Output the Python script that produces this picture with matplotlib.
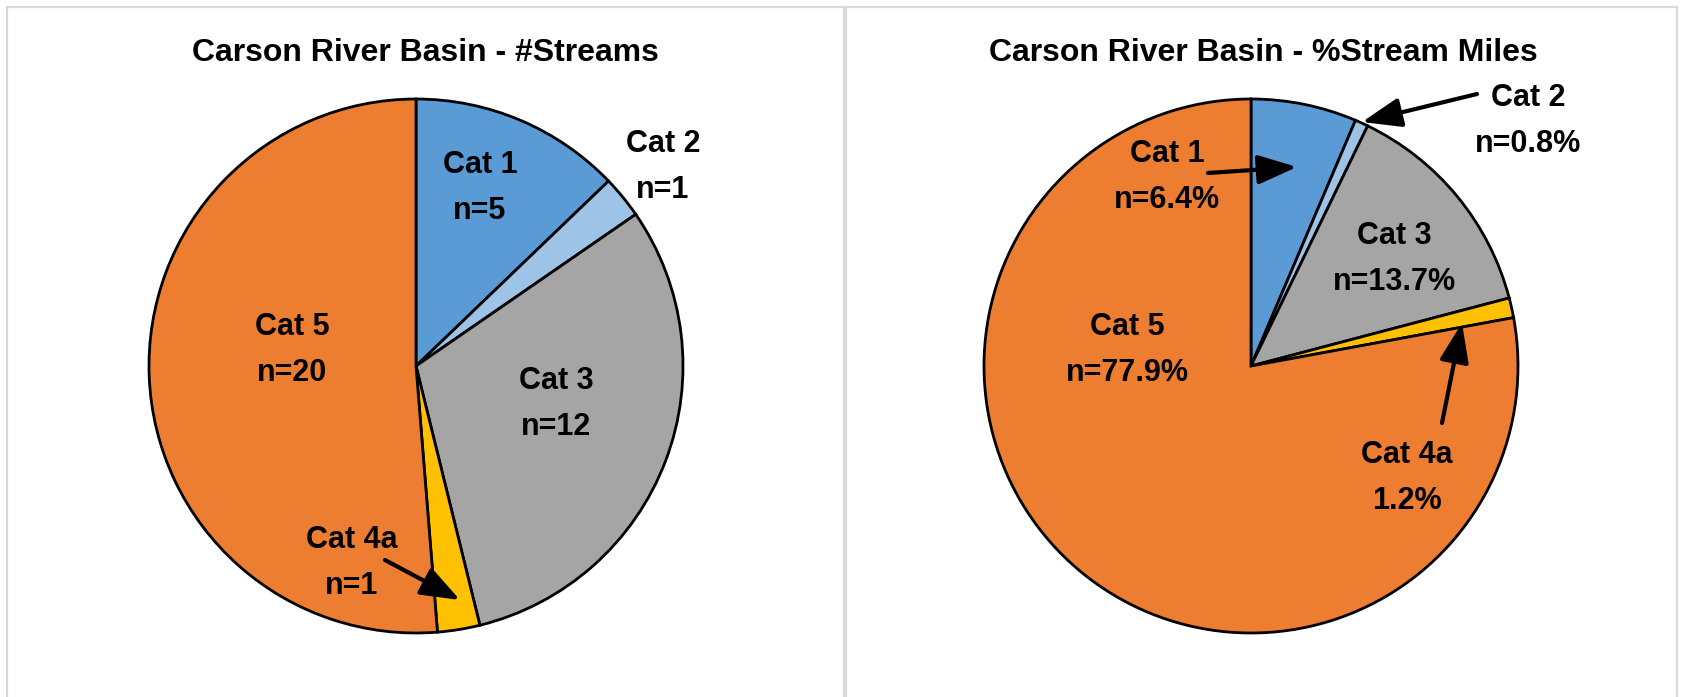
import matplotlib
matplotlib.use("Agg")
import matplotlib.pyplot as plt
from matplotlib.patches import Rectangle
from matplotlib.patches import ArrowStyle

# ---- data ----
categories = ["Cat 1", "Cat 2", "Cat 3", "Cat 4a", "Cat 5"]
streams_counts = [5, 1, 12, 1, 20]
miles_pct = [6.4, 0.8, 13.7, 1.2, 77.9]
streams_labels = ["Cat 1\nn=5", "Cat 2\nn=1", "Cat 3\nn=12", "Cat 4a\nn=1", "Cat 5\nn=20"]
miles_labels = ["Cat 1\nn=6.4%", "Cat 2\nn=0.8%", "Cat 3\nn=13.7%", "Cat 4a\n1.2%", "Cat 5\nn=77.9%"]
titles = ["Carson River Basin - #Streams", "Carson River Basin - %Stream Miles"]
colors = ["#5b9bd5", "#9dc3e6", "#a5a5a5", "#ffc000", "#ed7d31"]

W, H = 1686, 697
plt.rcParams['font.family'] = ['Liberation Sans', 'DejaVu Sans']

fig = plt.figure(figsize=(W / 100, H / 100), dpi=100)
fig.patch.set_facecolor("white")
ax = fig.add_axes([0, 0, 1, 1])

def Y(y):
    return H - y

R = 267
centers = [(416, 366), (1251, 366)]
datasets = [streams_counts, miles_pct]
label_sets = [streams_labels, miles_labels]

for (cx, cy), vals in zip(centers, datasets):
    ax.pie(vals, colors=colors, startangle=90, counterclock=False,
           center=(cx, Y(cy)), radius=R, frame=True,
           wedgeprops=dict(edgecolor="black", linewidth=2.0))

ax.set_xlim(0, W)
ax.set_ylim(0, H)
ax.set_aspect("equal")
ax.axis("off")

# panel borders
border = "#d9d9d9"
ax.add_patch(Rectangle((6.5, Y(720)), 843.5 - 6.5, 720 - 7, fill=False, edgecolor=border, lw=1.6))
ax.add_patch(Rectangle((845.5, Y(720)), 1677 - 845.5, 720 - 7, fill=False, edgecolor=border, lw=1.6))

# titles
ax.text(425, Y(53), titles[0], ha="center", va="center", fontsize=23, fontweight="bold")
ax.text(1263, Y(53), titles[1], ha="center", va="center", fontsize=23, fontweight="bold")

lfs = 22
left_pos = [(480, 188), (663, 167), (556, 404), (352, 563), (292, 350)]
right_pos = [(1167, 177), (1528, 121), (1394, 259), (1407, 478), (1127, 350)]
for txts, poss in zip(label_sets, [left_pos, right_pos]):
    for t, (x, y) in zip(txts, poss):
        ax.text(x, Y(y), t, ha="center", va="center", fontsize=lfs,
                fontweight="bold", linespacing=1.72)

style = ArrowStyle("-|>", head_length=0.8, head_width=0.3)
arrows = [((385, 560), (460, 600)),
          ((1208, 173), (1297, 167)),
          ((1477, 94), (1362, 122)),
          ((1442, 423), (1462, 323))]
for (tx, ty), (hx, hy) in arrows:
    ax.annotate("", xy=(hx, Y(hy)), xytext=(tx, Y(ty)),
                arrowprops=dict(arrowstyle=style, color="black", lw=3.0,
                                mutation_scale=30, shrinkA=0, shrinkB=0))

fig.savefig("out.png", dpi=100, facecolor="white")
